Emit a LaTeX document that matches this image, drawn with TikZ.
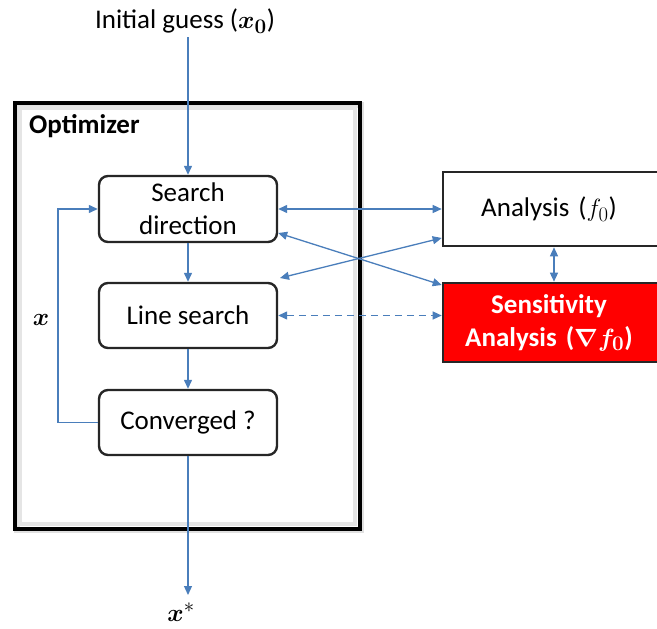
\documentclass[tikz,border=0pt]{standalone}
\usepackage{bm}
\usepackage{fontspec}
\setmainfont{Carlito}
\usetikzlibrary{arrows.meta}
\definecolor{arr}{HTML}{4A7EBB}
\definecolor{bord}{HTML}{262626}
\newcommand{\mymath}[1]{{\fontsize{31}{33}\selectfont$#1$}}
\tikzset{
  blk/.style={draw=bord, line width=2.4pt, rounded corners=9pt, fill=white, align=center,
    minimum width=178pt, inner sep=0pt, font=\fontsize{27}{33}\selectfont},
  sqbox/.style={draw=bord, line width=2.6pt, align=center, minimum width=222pt, inner sep=0pt,
    font=\fontsize{27}{33}\selectfont},
  conn/.style={draw=arr, line width=1.3pt, -{Triangle[length=9pt,width=8pt]}},
  bconn/.style={draw=arr, line width=1.3pt, {Triangle[length=9pt,width=8pt]}-{Triangle[length=9pt,width=8pt]}},
  lbl/.style={font=\fontsize{27}{33}\selectfont, inner sep=0pt}
}
\begin{document}
\begin{tikzpicture}[x=1pt,y=-1pt]
\useasboundingbox (0,0) rectangle (657,629);
% optimizer frame with shadow
\draw[black!12, line width=6pt] (17,105) rectangle (361,530);
\draw[black!10, line width=4pt] (20,108) rectangle (355,524);
\draw[black, line width=3.2pt] (15,103) rectangle (360,529);
\node[lbl, font=\fontsize{27}{33}\selectfont\bfseries, anchor=west] (opt) at (29,126) {Optimizer};
% title
\node[lbl] (init) at (185,21) {Initial guess (\mymath{\bm{x_0}})};
% boxes
\node[blk, minimum height=66pt] (sd) at (188,209) {Search\\direction};
\node[blk, minimum height=65pt] (ls) at (188,315.5) {Line search};
\node[blk, minimum height=65pt] (cv) at (188,422.5) {Converged ?};
\node[sqbox, fill=white, minimum height=74pt, text width=222pt] (an) at (554,209) {\hspace*{-10pt}Analysis (\mymath{f_0})};
\node[sqbox, fill=red, text=white, minimum height=79pt, text width=222pt,
  font=\fontsize{27}{33}\selectfont\bfseries] (se) at (554,322.5) {\hspace*{-10pt}Sensitivity\\\hspace*{-10pt}Analysis (\mymath{\bm{\nabla f_0}})};
% x labels
\node[lbl] (xl) at (41,320) {\mymath{\bm{x}}};
\node[lbl] (xs) at (181,612) {\mymath{\bm{x}^{*}}};
% connectors
\coordinate (ig) at (188,37);
\coordinate (xe) at (188,595);
\draw[conn] (ig) -- (sd.north);
\draw[conn] (sd.south) -- (ls.north);
\draw[conn] (ls.south) -- (cv.north);
\draw[conn] (cv.west) -- (58,422.5) |- (sd.west);
\draw[conn] (cv.south) -- (xe);
\draw[bconn] (sd.east) -- (an.west);
\draw[bconn] (sd.east |- 0,233) -- (se.west |- 0,285);
\draw[bconn] (280,278) -- (an.west |- 0,238);
\draw[bconn, dash pattern=on 7pt off 5pt] (ls.east) -- (ls.east -| an.west);
\draw[bconn] (an.south) -- (se.north);
\end{tikzpicture}
\end{document}
